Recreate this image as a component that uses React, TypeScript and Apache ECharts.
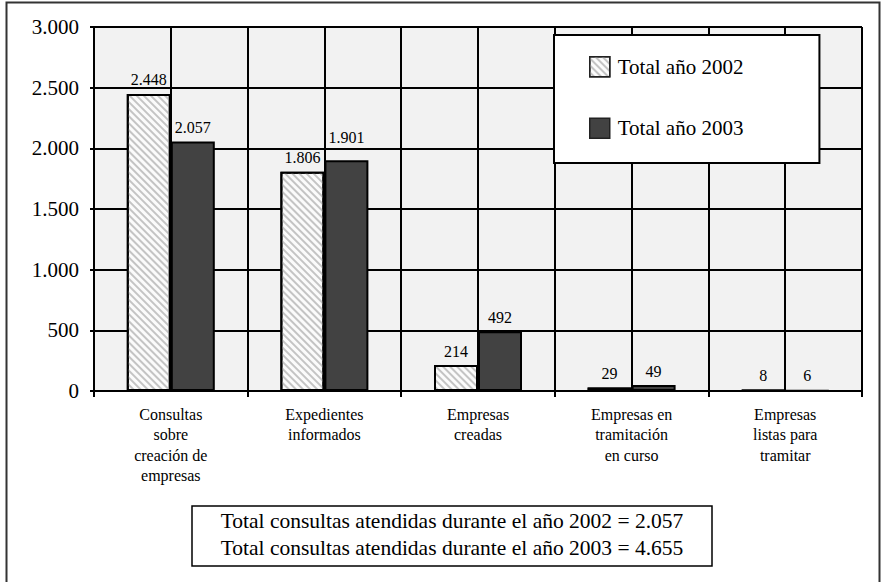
import React, { useEffect, useRef } from "react";
import * as echarts from "echarts";

const categories = [
  "Consultas\nsobre\ncreación de\nempresas",
  "Expedientes\ninformados",
  "Empresas\ncreadas",
  "Empresas en\ntramitación\nen curso",
  "Empresas\nlistas para\ntramitar",
];
const seriesNames = ["Total año 2002", "Total año 2003"];
const values2002 = [2448, 1806, 214, 29, 8];
const values2003 = [2057, 1901, 492, 49, 6];
const yTicks = { min: 0, max: 3000, interval: 500 };
const footnoteLines = [
  "Total consultas atendidas durante el año 2002 = 2.057",
  "Total consultas atendidas durante el año 2003 = 4.655",
];

const FONT = "Liberation Serif";
const fmt = (n: number) => String(n).replace(/\B(?=(\d{3})+(?!\d))/g, ".");

export default function App() {
  const ref = useRef<HTMLDivElement>(null);
  useEffect(() => {
    document.body.style.margin = "0";
    const chart = echarts.init(ref.current!, null, { renderer: "svg" });
    const halfCats = Array.from({ length: categories.length * 2 }, (_, i) => String(i));
    const labelStyle = {
      show: true,
      position: "top",
      distance: 6,
      fontFamily: FONT,
      fontSize: 16,
      color: "#000",
      formatter: (p: any) => fmt(p.value),
    };
    // the label that would sit on a grid line is lifted clear of it, as in the original
    const data2003 = values2003.map((v, i) =>
      i === 1 ? { value: v, label: { distance: 15 } } : v
    );
    chart.setOption({
      animation: false,
      backgroundColor: "#ffffff",
      textStyle: { fontFamily: FONT, color: "#000" },
      grid: {
        left: 94,
        right: 19,
        top: 27,
        bottom: 191,
        show: true,
        backgroundColor: "#f2f2f2",
        borderWidth: 0,
      },
      legend: {
        data: seriesNames.map((n) => ({ name: n, icon: "rect" })),
        orient: "vertical",
        left: 554,
        top: 35,
        selectedMode: false,
        backgroundColor: "#ffffff",
        borderColor: "#000",
        borderWidth: 2,
        padding: [21, 76, 24, 35],
        itemGap: 40,
        itemWidth: 20,
        itemHeight: 20,
        itemStyle: { borderWidth: 1.5, borderColor: "#222" },
        textStyle: { fontFamily: FONT, fontSize: 21, lineHeight: 21, color: "#000", padding: [0, 0, 0, 3] },
        z: 10,
      },
      xAxis: [
        {
          type: "category",
          data: categories,
          axisLine: { show: true, lineStyle: { color: "#000", width: 2 } },
          axisTick: { show: true, length: 6, lineStyle: { color: "#000", width: 2 }, interval: 0 },
          axisLabel: {
            interval: 0,
            margin: 13,
            fontFamily: FONT,
            fontSize: 16,
            lineHeight: 20.5,
            color: "#000",
            align: "center",
          },
          splitLine: { show: false },
          z: 5,
        },
        {
          type: "category",
          data: halfCats,
          position: "bottom",
          axisLine: { show: false },
          axisTick: { show: false },
          axisLabel: { show: false },
          splitLine: { show: true, interval: 0, lineStyle: { color: "#000", width: 2 } },
        },
      ],
      yAxis: {
        type: "value",
        min: yTicks.min,
        max: yTicks.max,
        interval: yTicks.interval,
        axisLine: { show: true, lineStyle: { color: "#000", width: 2 } },
        axisTick: { show: true, length: 4, lineStyle: { color: "#000", width: 2 } },
        axisLabel: {
          margin: 15,
          fontFamily: FONT,
          fontSize: 21,
          color: "#000",
          formatter: (v: number) => fmt(v),
        },
        splitLine: { show: true, lineStyle: { color: "#000", width: 2 } },
      },
      series: [
        {
          name: seriesNames[0],
          type: "bar",
          xAxisIndex: 0,
          data: values2002,
          barWidth: 44,
          barGap: "0%",
          itemStyle: {
            color: "#fbfbfb",
            borderColor: "#000",
            borderWidth: 2,
            decal: {
              symbol: "rect",
              symbolSize: 1,
              color: "#c4c4c4",
              dashArrayX: [1, 0],
              dashArrayY: [1.6, 2.8],
              rotation: Math.PI / 4,
            },
          },
          label: labelStyle,
          z: 3,
        },
        {
          name: seriesNames[1],
          type: "bar",
          xAxisIndex: 0,
          data: data2003,
          barWidth: 44,
          barGap: "0%",
          itemStyle: { color: "#424242", borderColor: "#000", borderWidth: 2 },
          label: labelStyle,
          z: 3,
        },
      ],
      graphic: [
        {
          type: "rect",
          shape: { x: 6.5, y: 2.5, width: 873, height: 600 },
          style: { fill: "none", stroke: "#333", lineWidth: 2 },
          silent: true,
          z: 20,
        },
        {
          type: "rect",
          shape: { x: 192, y: 506, width: 520, height: 60 },
          style: { fill: "#fff", stroke: "#000", lineWidth: 1.5 },
          z: 20,
        },
        {
          type: "text",
          x: 452,
          y: 521,
          style: {
            text: footnoteLines[0],
            font: `21.5px ${FONT}`,
            fill: "#000",
            align: "center",
            verticalAlign: "middle",
          },
          z: 21,
        },
        {
          type: "text",
          x: 452,
          y: 548,
          style: {
            text: footnoteLines[1],
            font: `21.5px ${FONT}`,
            fill: "#000",
            align: "center",
            verticalAlign: "middle",
          },
          z: 21,
        },
      ],
    });
    return () => chart.dispose();
  }, []);
  return <div ref={ref} style={{ width: 881, height: 582 }} />;
}
